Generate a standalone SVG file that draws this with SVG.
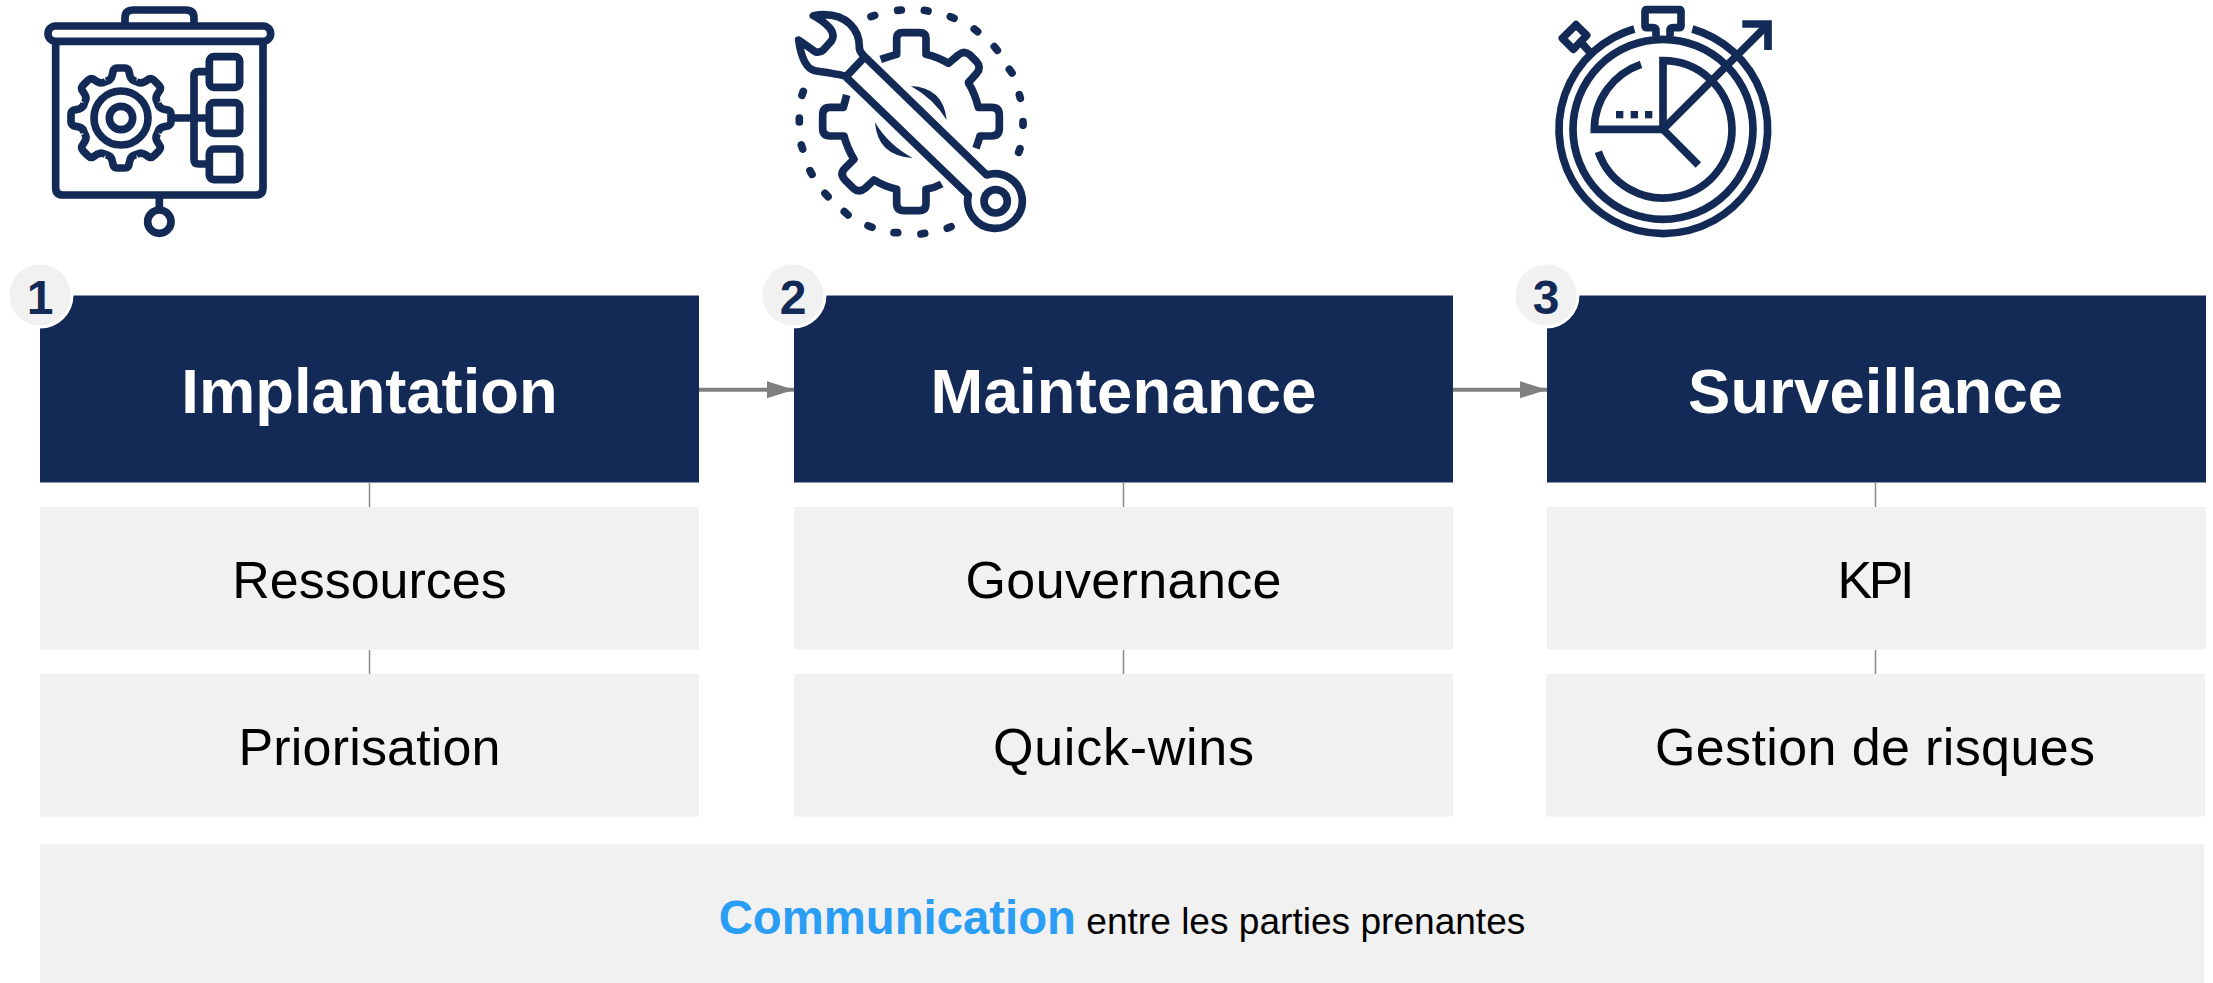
<svg xmlns="http://www.w3.org/2000/svg" xmlns:xlink="http://www.w3.org/1999/xlink" width="2213" height="983" viewBox="0 0 2213 983">
<style>
text{font-family:"Liberation Sans",Arial,sans-serif;text-anchor:middle}
.hd{fill:#132a56}
.sub{fill:#f1f1f1}
.t{fill:#fff;font-weight:700;font-size:63.3px}
.s{fill:#000;font-size:52px}
.n{fill:#132a56;font-weight:700;font-size:48px}
.badge{fill:#f1f1f1;stroke:#fff;stroke-width:3}
.ic{fill:none;stroke:#132a56;stroke-width:23;stroke-linejoin:round;stroke-linecap:butt}
.fl{fill:#132a56;stroke:none}
.v{stroke:#8c8c8c;stroke-width:1.5;fill:none}
.a{stroke:#7f7f7f;stroke-width:4;fill:none;marker-end:url(#arr)}
</style>
<defs>
<marker id="arr" markerUnits="userSpaceOnUse" markerWidth="28" markerHeight="18" refX="27" refY="8.5" orient="auto"><path d="M0 0L27 8.5L0 17Z" fill="#7f7f7f"/></marker>
<path id="tooth" d="M-46 -110Q-31 -112 -27 -126L-23 -143Q-20 -150 -10 -150H10Q20 -150 23 -143L27 -126Q31 -112 46 -110"/>
</defs>
<rect width="2213" height="983" fill="#fff"/>

<g id="icon-implantation" class="ic" transform="translate(20 0) scale(.33333)">
<rect x="84" y="78" width="668" height="46" rx="23"/>
<path d="M315 70V54Q315 30 340 30H497Q522 30 522 54V70"/>
<path d="M107 125V563Q107 585 130 585H707Q729 585 729 563V125"/>
<path d="M418 590V625"/>
<circle cx="418" cy="665" r="35"/>
<g transform="translate(303 354)">
<use xlink:href="#tooth"/><use xlink:href="#tooth" transform="rotate(45)"/><use xlink:href="#tooth" transform="rotate(90)"/><use xlink:href="#tooth" transform="rotate(135)"/><use xlink:href="#tooth" transform="rotate(180)"/><use xlink:href="#tooth" transform="rotate(225)"/><use xlink:href="#tooth" transform="rotate(270)"/><use xlink:href="#tooth" transform="rotate(315)"/>
<circle r="81"/><circle r="35"/>
</g>
<path d="M462 354H560M560 215H536Q522 215 522 229V478Q522 492 536 492H560"/>
<rect x="568" y="170" width="91" height="92" rx="14"/>
<rect x="568" y="308" width="91" height="92" rx="14"/>
<rect x="568" y="447" width="91" height="92" rx="14"/>
</g>

<g id="icon-maintenance" class="ic" transform="translate(760 0) scale(.33333)">
<path d="M160 47Q230 35 270 72Q300 102 298 145Q300 157 312 168L680 525A82 82 0 1 1 625 585L255 228Q245 224 165 212Q128 205 116 120L165 155Q178 160 190 150L215 122Q225 105 210 85Q190 62 160 47Z"/>
<path d="M310 175L260 228"/>
<circle cx="707" cy="604" r="35"/>
<path d="M362 178Q385 170 410 163V115Q410 98 428 98H478Q498 98 498 115V163Q535 172 565 190L595 165Q612 150 630 165L650 185Q665 202 650 220L625 248Q645 280 655 322H695Q718 322 718 345V385Q718 408 695 408H660Q655 425 648 445"/>
<path d="M260 285Q255 305 250 322H210Q188 322 188 345V385Q188 408 210 408H252Q262 445 282 478L255 505Q238 522 255 540L280 565Q297 580 315 565L342 540Q375 560 410 568V610Q410 632 432 632H478Q498 632 498 610V568Q525 563 545 552"/>
<path class="fl" d="M452 258Q550 262 560 360Q520 295 452 258Z"/>
<path class="fl" d="M345 367Q352 468 458 474Q385 435 345 367Z"/>
<path style="stroke-linecap:round" d="M333 50L344 46M413 31L424 30M493 31L504 33M571 50L582 55M643 87L653 95M703 140L712 151M748 208L756 219M778 284L781 295M789 365V376M780 446L776 457M130 274L126 286M118 354V366M124 435L128 447M150 512L156 523M195 580L204 590M253 635L264 645M324 677L336 682M402 698H413M483 702L494 700M562 685L573 680"/>
</g>

<g id="icon-surveillance" class="ic" transform="translate(1500 0) scale(.33333)">
<path d="M403 87A313 313 0 1 0 577 87"/>
<circle cx="489" cy="388" r="270"/>
<path d="M468 108V92Q468 83 458 83H441Q435 83 435 77V35Q435 29 441 29H537Q543 29 543 35V77Q543 83 537 83H520Q510 83 510 92V108"/>
<path d="M228 74L260 106L220 148L187 115Z"/>
<path d="M246 130L270 157"/>
<path style="stroke-linejoin:miter" d="M423 193A206 206 0 0 0 283 388H489V182A206 206 0 1 1 295 455"/>
<path d="M489 388L800 77"/>
<path style="stroke-linejoin:miter" d="M727 72H804V150"/>
<path d="M489 388L595 495"/>
<rect class="fl" x="348" y="333" width="22" height="22"/>
<rect class="fl" x="392" y="333" width="22" height="22"/>
<rect class="fl" x="435" y="333" width="22" height="22"/>
</g>

<g id="connectors">
<path class="a" d="M699 389.7H794"/>
<path class="a" d="M1453 389.7H1547"/>
<path class="v" d="M369.5 483V507M369.5 650V674M1123.5 483V507M1123.5 650V674M1875.5 483V507M1875.5 650V674"/>
</g>

<g id="node-implantation">
<rect class="hd" x="40" y="295.5" width="659" height="187"/>
<text class="t" x="369.5" y="413">Implantation</text>
<circle class="badge" cx="40" cy="295" r="32"/>
<text class="n" x="40" y="314">1</text>
</g>
<g id="node-maintenance">
<rect class="hd" x="794" y="295.5" width="659" height="187"/>
<text class="t" x="1123.5" y="413" textLength="386">Maintenance</text>
<circle class="badge" cx="793" cy="295" r="32"/>
<text class="n" x="793" y="314">2</text>
</g>
<g id="node-surveillance">
<rect class="hd" x="1547" y="295.5" width="659" height="187"/>
<text class="t" x="1875.5" y="413" textLength="375">Surveillance</text>
<circle class="badge" cx="1546" cy="295" r="32"/>
<text class="n" x="1546" y="314">3</text>
</g>
<g id="node-ressources"><rect class="sub" x="40" y="507" width="659" height="142.5"/><text class="s" x="369.5" y="598">Ressources</text></g>
<g id="node-priorisation"><rect class="sub" x="40" y="674" width="659" height="142.5"/><text class="s" x="369.5" y="765" textLength="262">Priorisation</text></g>
<g id="node-gouvernance"><rect class="sub" x="794" y="507" width="659" height="142.5"/><text class="s" x="1123.5" y="598" textLength="316">Gouvernance</text></g>
<g id="node-quickwins"><rect class="sub" x="794" y="674" width="659" height="142.5"/><text class="s" x="1123.5" y="765" textLength="261">Quick-wins</text></g>
<g id="node-kpi"><rect class="sub" x="1547" y="507" width="659" height="142.5"/><text class="s" x="1876" y="598" textLength="77">KPI</text></g>
<g id="node-risques"><rect class="sub" x="1546" y="674" width="659" height="142.5"/><text class="s" x="1875" y="765" textLength="440">Gestion de risques</text></g>
<g id="node-communication"><rect class="sub" x="40" y="844" width="2164" height="139"/>
<text x="1122" y="934" style="font-size:37.1px"><tspan style="font-size:47.3px;font-weight:700;fill:#2a9df4">Communication</tspan><tspan fill="#000"> entre les parties prenantes</tspan></text></g>
</svg>
